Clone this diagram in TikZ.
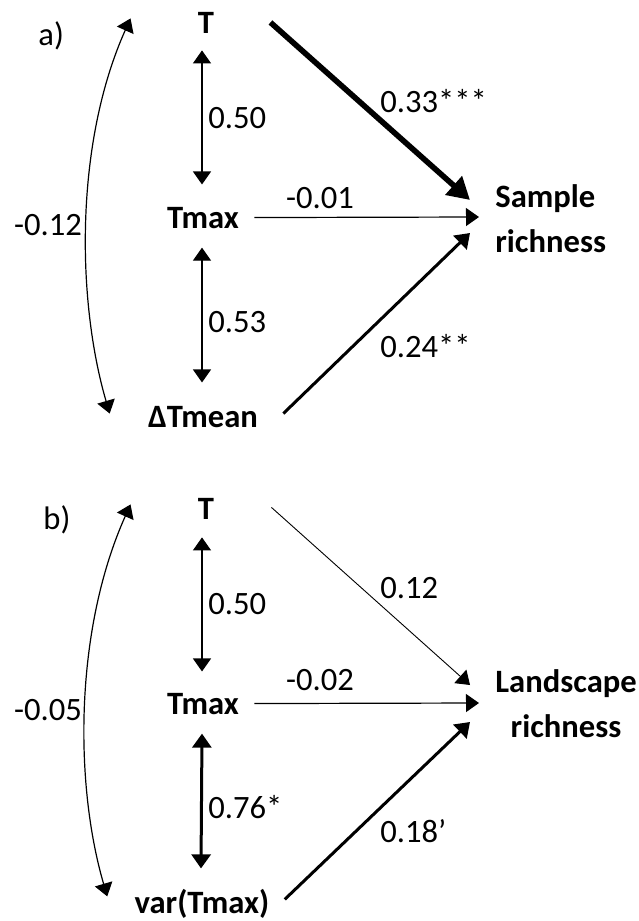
\documentclass[tikz,border=0pt]{standalone}
\usepackage{fontspec}
\setmainfont{Carlito}
\usepackage{tikz}
\usetikzlibrary{arrows.meta}

\begin{document}
\begin{tikzpicture}[x=0.5pt, y=-0.5pt,
  every node/.style={inner sep=0pt, font=\fontsize{16.3}{22.5}\selectfont},
  var/.style={font=\fontsize{16.3}{22.5}\selectfont\bfseries},
  weak/.style={line width=0.6pt, >={Triangle[length=6.5pt,width=9pt]}},
  mid/.style={line width=1.5pt, >={Triangle[length=7pt,width=9.5pt]}},
  strong/.style={line width=2.8pt, >={Triangle[length=11pt,width=12pt]}}]
  \useasboundingbox (0,0) rectangle (638,921);

  %---- PANNELLO a) ----
  \node[anchor=base west] (la) at (38,45) {a)};
  \node[var, anchor=base] (Ta) at (206,33) {T};
  \node[var, anchor=base] (Tmaxa) at (203,228) {Tmax};
  \node[var, anchor=base] (dTa) at (203,427) {ΔTmean};
  \node[var, anchor=west, align=left] (Sa) at (495,219) {Sample\\richness};

  % correlazioni
  \draw[weak, <->] ([shift={(-4,17)}]Ta.south) -- ([shift={(-1,-22)}]Tmaxa.north);
  \draw[weak, <->] ([shift={(-1,19)}]Tmaxa.south) -- ([shift={(-1,-23)}]dTa.north);
  \draw[weak, <->] ([shift={(-38,-3)}]dTa.west) .. controls +(-33,-113) and +(-56,125) .. ([shift={(-67,-4)}]Ta.west);
  \node[anchor=base west] (ra1) at (208,128) {0.50};
  \node[anchor=base west] (ra2) at (208,332) {0.53};
  \node[anchor=base] (ra3) at (48,235) {-0.12};

  % effetti
  \draw[strong, ->] ([shift={(56,0)}]Ta.east) -- ([shift={(-25,-19)}]Sa.west);
  \draw[weak, ->] ([shift={(15,0)}]Tmaxa.east) -- ([shift={(-16,-2)}]Sa.west);
  \draw[mid, ->] ([shift={(25,-3)}]dTa.east) -- ([shift={(-25,14)}]Sa.west);
  \node[anchor=base west] (ea1) at (380,112) {0.33***};
  \node[anchor=base] (ea2) at (320,208) {-0.01};
  \node[anchor=base west] (ea3) at (380,357) {0.24**};

  %---- PANNELLO b) ----
  \node[anchor=base west] (lb) at (43,529) {b)};
  \node[var, anchor=base] (Tb) at (206,519) {T};
  \node[var, anchor=base] (Tmaxb) at (203,714) {Tmax};
  \node[var, anchor=base] (vb) at (202,913) {var(Tmax)};
  \node[var, anchor=west, align=center] (Lb) at (495,704) {Landscape\\richness};

  % correlazioni
  \draw[weak, <->] ([shift={(-4,18)}]Tb.south) -- ([shift={(-1,-21)}]Tmaxb.north);
  \draw[mid, <->] ([shift={(-1,19)}]Tmaxb.south) -- ([shift={(-1,-20)}]vb.north);
  \draw[weak, <->] ([shift={(-27,-7)}]vb.west) .. controls +(-33,-113) and +(-56,125) .. ([shift={(-67,-4)}]Tb.west);
  \node[anchor=base west] (rb1) at (208,614) {0.50};
  \node[anchor=base west] (rb2) at (208,818) {0.76*};
  \node[anchor=base] (rb3) at (48,720) {-0.05};

  % effetti
  \draw[weak, line width=0.45pt, ->] ([shift={(57,-1)}]Tb.east) -- ([shift={(-25,-19)}]Lb.west);
  \draw[weak, ->] ([shift={(15,0)}]Tmaxb.east) -- ([shift={(-16,-1)}]Lb.west);
  \draw[mid, ->] ([shift={(15,-4)}]vb.east) -- ([shift={(-25,18)}]Lb.west);
  \node[anchor=base west] (eb1) at (380,598) {0.12};
  \node[anchor=base] (eb2) at (320,690) {-0.02};
  \node[anchor=base west] (eb3) at (380,842) {0.18’};
\end{tikzpicture}
\end{document}
